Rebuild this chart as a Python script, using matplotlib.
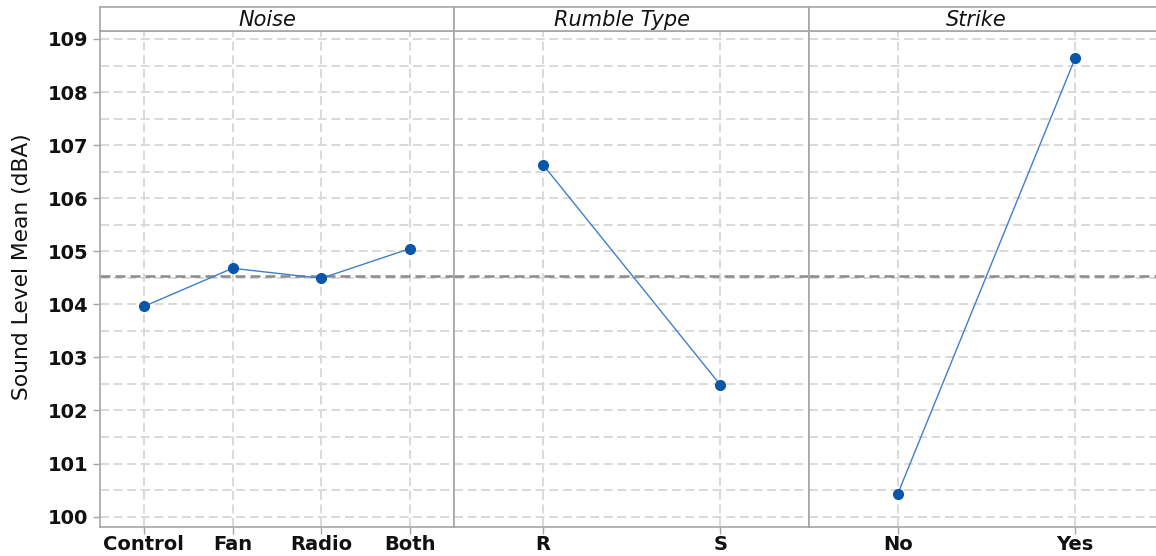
import matplotlib.pyplot as plt
from matplotlib.ticker import MultipleLocator

# =====================================
# data
# =====================================

noise_levels = ["Control", "Fan", "Radio", "Both"]
noise_means = [103.96, 104.68, 104.49, 105.05]

rumble_levels = ["R", "S"]
rumble_means = [106.63, 102.48]

strike_levels = ["No", "Yes"]
strike_means = [100.43, 108.64]

panel_titles = ["Noise", "Rumble Type", "Strike"]
grand_mean = 104.53

y_ticks = [100, 101, 102, 103, 104, 105, 106, 107, 108, 109]

# =====================================
# style
# =====================================

plt.rcParams["font.family"] = ["DejaVu Sans"]

edge_col = "#a6a6a6"
grid_col = "#d9d9d9"
point_col = "#0a56a8"
line_col = "#3f7fcc"
mean_col = "#8a8a8a"
text_col = "#111111"

W, H = 1156, 556
fig = plt.figure(figsize=(W / 100, H / 100), dpi=100)

left_px = 99.5
panel_w = 354.8
bottom_px = 526.7
top_px = 30.5
strip_top_px = 6.7

panels = [
    (noise_levels, noise_means),
    (rumble_levels, rumble_means),
    (strike_levels, strike_means),
]

for i, ((levels, means), title) in enumerate(zip(panels, panel_titles)):

    x0 = (left_px + i * panel_w) / W
    ax = fig.add_axes([x0, 1 - bottom_px / H, panel_w / W,
                       (bottom_px - top_px) / H])

    xs = list(range(len(levels)))

    # grid
    ax.yaxis.set_minor_locator(MultipleLocator(0.5))
    ax.grid(True, which="both", axis="y", color=grid_col,
            linestyle=(0, (4.6, 2.4)), linewidth=1.4)
    ax.grid(True, which="major", axis="x", color=grid_col,
            linestyle=(0, (4.6, 2.4)), linewidth=1.4)
    ax.set_axisbelow(True)

    # grand mean reference
    ax.axhline(grand_mean, color=mean_col, linestyle=(0, (4, 2)),
               linewidth=1.8, zorder=1.5)

    # means
    ax.plot(xs, means, color=line_col, linewidth=1.0, zorder=3)
    ax.plot(xs, means, "o", color=point_col, markersize=7, zorder=4)

    ax.set_xlim(-0.5, len(levels) - 0.5)
    ax.set_ylim(99.81, 109.16)
    ax.set_xticks(xs)
    ax.set_xticklabels(levels, fontsize=14, fontweight="bold",
                       color=text_col)
    ax.set_yticks(y_ticks)

    ax.tick_params(axis="x", which="major", length=5, width=1,
                   color=edge_col, pad=1)
    ax.tick_params(axis="y", which="minor", length=0)

    if i == 0:
        ax.set_yticklabels([str(t) for t in y_ticks], fontsize=14,
                           fontweight="bold", color=text_col)
        ax.tick_params(axis="y", which="major", length=5, width=1,
                       color=edge_col, pad=3)
        ax.set_ylabel("Sound Level Mean (dBA)", fontsize=15.7,
                      color=text_col)
        ax.yaxis.set_label_coords(-0.19, 0.525)
    else:
        ax.tick_params(axis="y", which="major", length=0,
                       labelleft=False)

    for side in ["left", "right", "bottom", "top"]:
        ax.spines[side].set_color(edge_col)
        ax.spines[side].set_linewidth(1.2)

    # strip with factor name
    sax = fig.add_axes([x0, 1 - top_px / H, panel_w / W,
                        (top_px - strip_top_px) / H])
    sax.set_xticks([])
    sax.set_yticks([])
    for side in ["left", "right", "bottom", "top"]:
        sax.spines[side].set_color(edge_col)
        sax.spines[side].set_linewidth(1.2)
    sax.text(0.472, 0.45, title, transform=sax.transAxes,
             ha="center", va="center", fontsize=15,
             style="italic", color=text_col)

fig.savefig("out.png", dpi=100)
